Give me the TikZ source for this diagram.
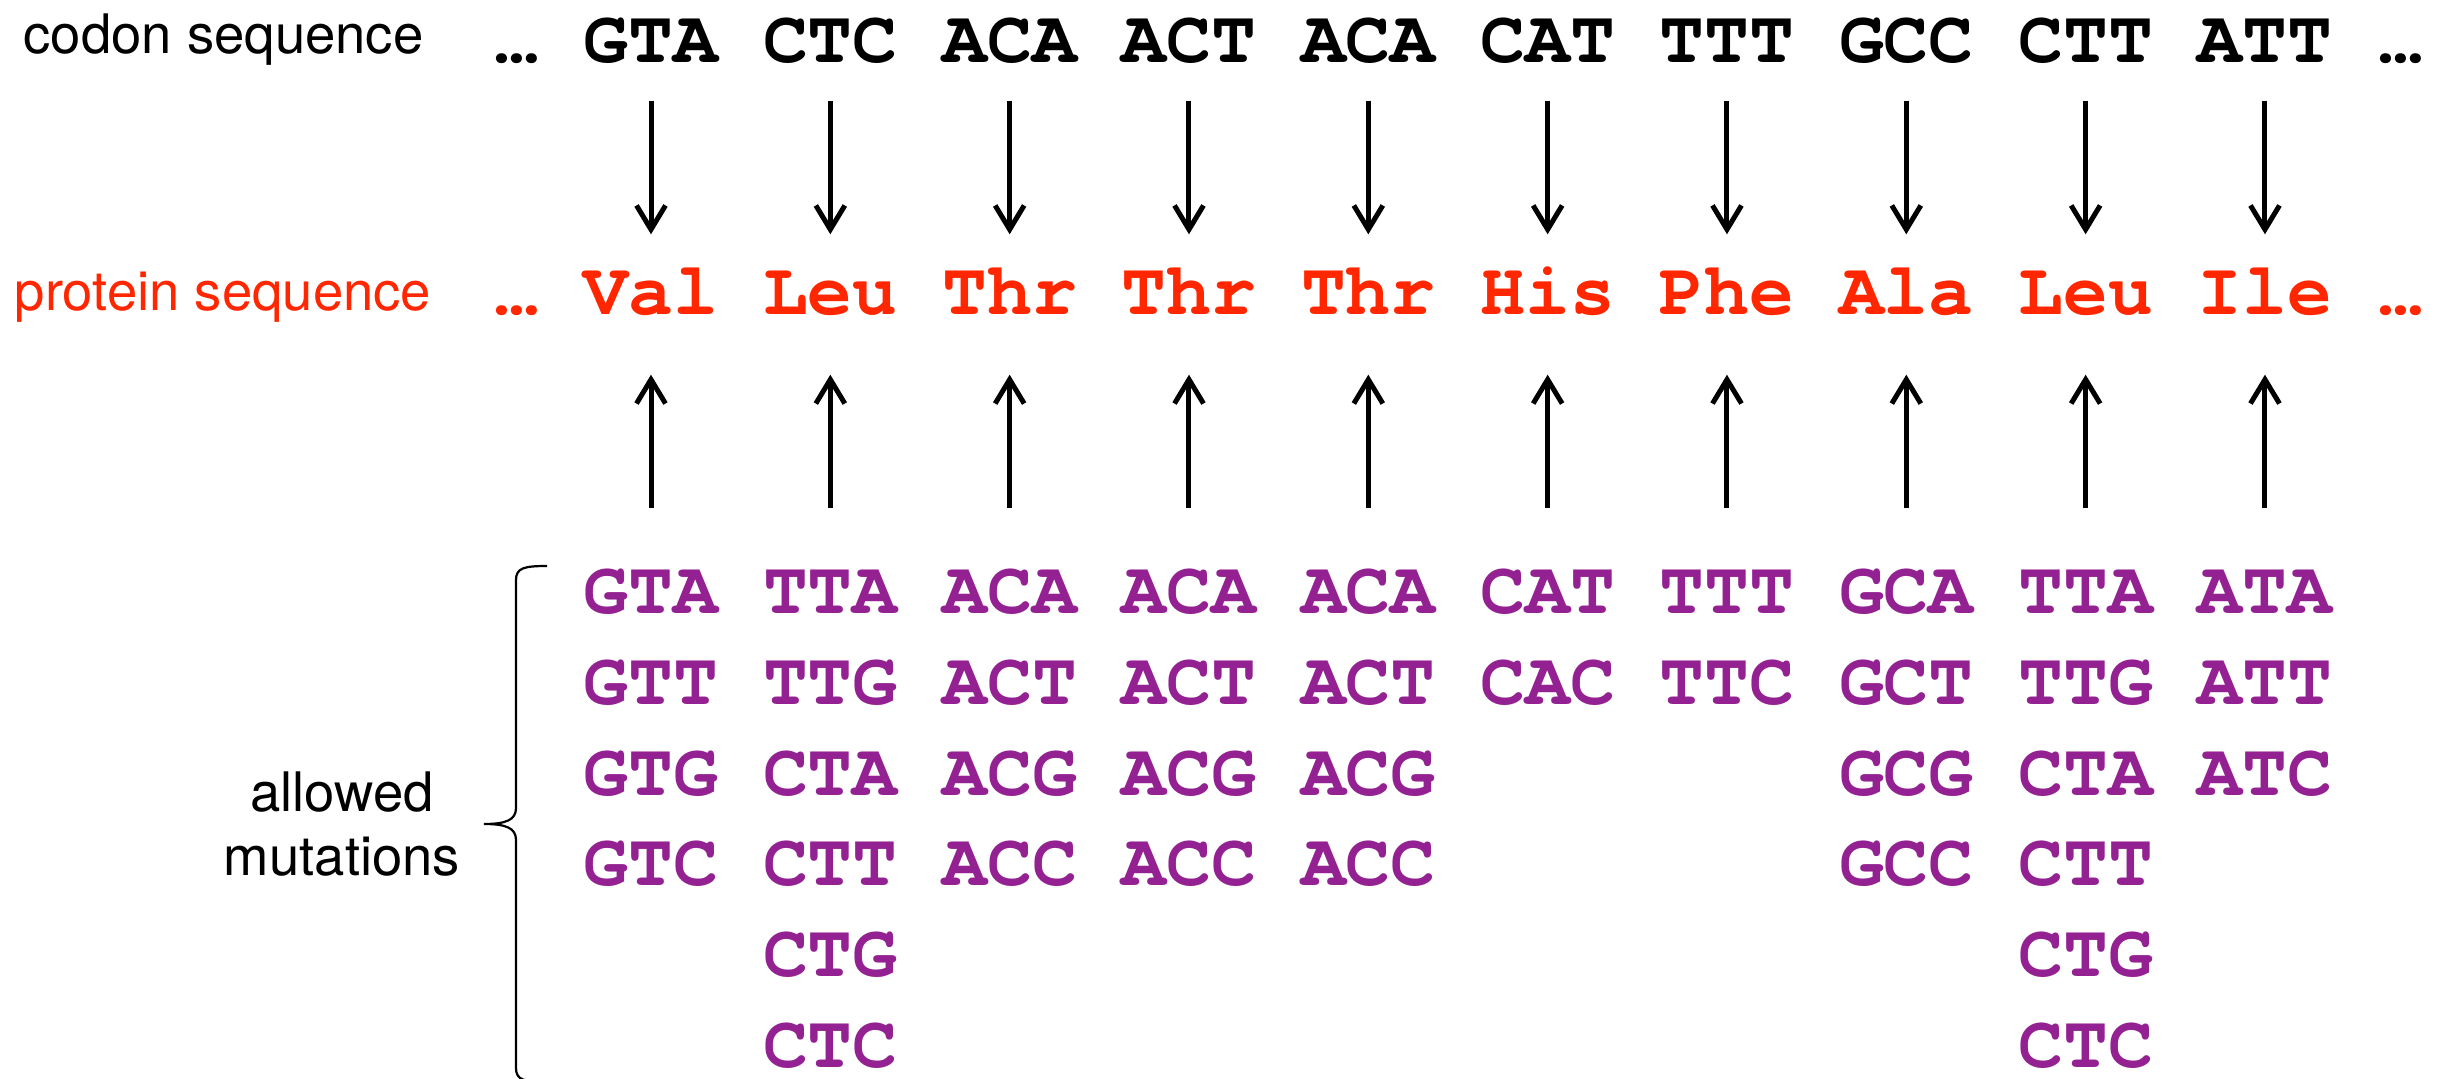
\documentclass[tikz,border=0pt]{standalone}
\usepackage{fontspec}
\setmainfont{TeX Gyre Heros}
\newfontfamily\codonfont{TeX Gyre Cursor}
\usetikzlibrary{arrows.meta}

\definecolor{aared}{RGB}{255,38,0}
\definecolor{mutpurple}{RGB}{148,33,146}

\tikzset{
  seq/.style={inner sep=0pt, anchor=base, text height=4.5mm, text depth=0pt,
    font=\codonfont\bfseries\fontsize{21.25pt}{24pt}\selectfont},
  lab/.style={inner sep=0pt, anchor=base, font=\fontsize{15.5pt}{18pt}\selectfont},
  map/.style={line width=0.5mm, -{Straight Barb[length=2.4mm,width=2.9mm]}},
  bracestyle/.style={line width=0.22mm}
}

\begin{document}
\begin{tikzpicture}[x=0.1mm, y=-0.1mm]
  \useasboundingbox (0,0) rectangle (2453,1079);

  % row labels
  \node[lab] (lcod) at (223.5,54) {codon sequence};
  \node[lab, text=aared] (lpro) at (223,311) {protein sequence};
  \node[lab] (lmut1) at (342,812) {allowed};
  \node[lab] (lmut2) at (342,876) {mutations};

  % ellipses at both ends of the sequences
  \node[seq] (cdl) at (516.5,63) {…};
  \node[seq] (cdr) at (2401,63) {…};
  \node[seq, text=aared] (pdl) at (516.5,315) {…};
  \node[seq, text=aared] (pdr) at (2401,315) {…};

  % codon sequence
  \foreach \c [count=\i from 0] in {GTA,CTC,ACA,ACT,ACA,CAT,TTT,GCC,CTT,ATT}
    \node[seq] (cod\i) at ({651+179.33*\i},63) {\c};

  % protein sequence
  \foreach \p [count=\i from 0] in {Val,Leu,Thr,Thr,Thr,His,Phe,Ala,Leu,Ile}
    \node[seq, text=aared] (pro\i) at ({651+179.33*\i},315) {\p};

  % synonymous codons
  \foreach \lst [count=\i from 0] in {
      {GTA,GTT,GTG,GTC},
      {TTA,TTG,CTA,CTT,CTG,CTC},
      {ACA,ACT,ACG,ACC},
      {ACA,ACT,ACG,ACC},
      {ACA,ACT,ACG,ACC},
      {CAT,CAC},
      {TTT,TTC},
      {GCA,GCT,GCG,GCC},
      {TTA,TTG,CTA,CTT,CTG,CTC},
      {ATA,ATT,ATC}}
    \foreach \m [count=\j from 0] in \lst
      \node[seq, text=mutpurple] (mut\i-\j) at ({651+179.33*\i},{614+90.6*\j}) {\m};

  % translation and back-mapping arrows
  \foreach \i in {0,...,9} {
    \draw[map, shorten <=3.7mm, shorten >=3.5mm] (cod\i.south) -- (pro\i.north);
    \draw[map, shorten <=6mm, shorten >=5.9mm] (mut\i-0.north) -- (pro\i.south);
  }

  % curly brace grouping the allowed mutations
  \draw[bracestyle] (547,566) .. controls (524,566) and (516,568) .. (516,580)
    -- (516,808) .. controls (516,820) and (506,824) .. (484,824)
    .. controls (506,824) and (516,828) .. (516,840)
    -- (516,1068) .. controls (516,1080) and (524,1082) .. (547,1082);
\end{tikzpicture}
\end{document}
